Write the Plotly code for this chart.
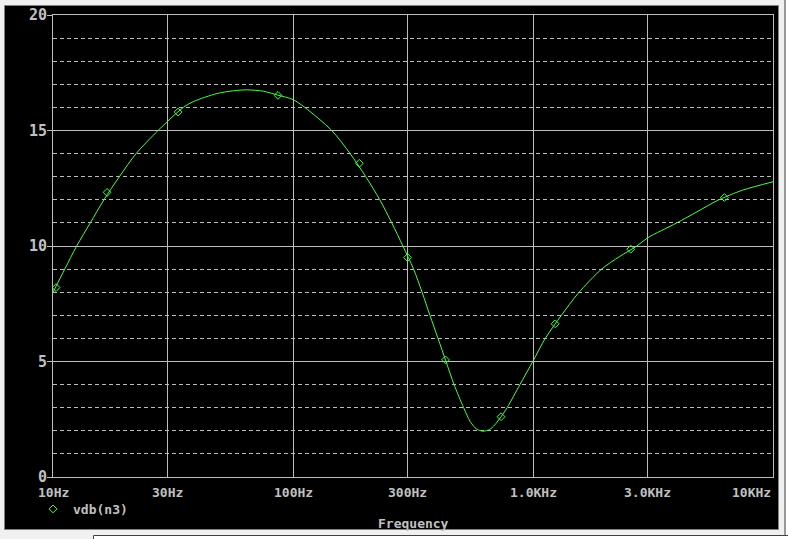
import math
import plotly.graph_objects as go

# ---- data ----
FREQ_HZ = [10, 11.2, 12.55, 14.3, 16.3, 18.9, 22.2, 27.4, 34.9, 38.4, 48.2, 56.5, 64.4,
           75.3, 86.6, 100, 112, 145, 173, 201, 230, 258, 287, 318, 345,
           372, 402, 434, 469, 514, 546, 566, 581, 621, 660, 692, 736, 780, 882, 998, 1125,
           1313, 1542, 1932, 2300, 2709, 3000, 3972, 4824, 5896, 7486, 10000]
VDB = [8.0, 9.0, 10.0, 11.0, 12.0, 13.0, 14.0, 15.0, 16.0, 16.25, 16.6, 16.72, 16.76,
       16.7, 16.53, 16.34, 16.0, 15.0, 14.0, 13.0, 12.0, 11.0, 10.0, 9.0, 8.0,
       7.0, 6.0, 5.0, 4.0, 3.0, 2.42, 2.2, 2.08, 1.98, 2.06, 2.25, 2.61, 3.0, 4.0, 5.0, 6.0,
       7.0, 7.95, 9.0, 9.55, 10.0, 10.35, 11.0, 11.48, 11.98, 12.42, 12.78]

MARK_FREQ = [10.3, 16.8, 33.2, 86.6, 189, 300, 432, 736, 1237, 2554, 6272]
MARK_VDB = [8.2, 12.32, 15.8, 16.52, 13.58, 9.5, 5.07, 2.61, 6.63, 9.86, 12.1]

X_TICKS = [10, 30, 100, 300, 1000, 3000, 10000]
X_TICK_TEXT = ["10Hz", "30Hz", "100Hz", "300Hz", "1.0KHz", "3.0KHz", "10KHz"]
Y_TICKS = [0, 5, 10, 15, 20]
Y_TICK_TEXT = ["0", "5", "10", "15", "20"]

SERIES_NAME = "vdb(n3)"
X_TITLE = "Frequency"

# ---- style ----
W, H = 788, 539
ML, MR, MT, MB = 53, 15, 15, 62
PW, PH = W - ML - MR, H - MT - MB
GREEN = "#44ff44"
GRID = "#bdbdbd"
TXT = "#c0c0c0"
FONT = "DejaVu Sans Mono"


def px_x(px):
    return (px - ML) / PW


def px_y(py):
    return (H - MB - py) / PH


fig = go.Figure()
fig.add_trace(go.Scatter(x=FREQ_HZ, y=VDB, mode="lines",
                         line=dict(color=GREEN, width=1, shape="spline", smoothing=0.8),
                         showlegend=False, hoverinfo="skip"))
fig.add_trace(go.Scatter(x=MARK_FREQ, y=MARK_VDB, mode="markers", name=SERIES_NAME,
                         marker=dict(symbol="diamond-open", size=6, color=GREEN, line=dict(width=1, color=GREEN)),
                         showlegend=True))

shapes = [
    dict(type="rect", xref="paper", yref="paper", x0=px_x(4.5), x1=px_x(778.5), y0=px_y(529.5), y1=px_y(5.5),
         fillcolor="black", line=dict(color="#808080", width=1), layer="below"),
    dict(type="line", xref="paper", yref="paper", x0=px_x(785), x1=px_x(785), y0=px_y(0), y1=px_y(539),
         line=dict(color="#404040", width=1), layer="below"),
    dict(type="rect", xref="paper", yref="paper", x0=px_x(786), x1=px_x(789), y0=px_y(539), y1=px_y(0),
         fillcolor="white", line=dict(width=0), layer="below"),
    dict(type="rect", xref="paper", yref="paper", x0=px_x(93.5), x1=px_x(789), y0=px_y(540), y1=px_y(535.5),
         fillcolor="white", line=dict(color="#404040", width=1), layer="below"),
]

annotations = []
for i, (v, t) in enumerate(zip(X_TICKS, X_TICK_TEXT)):
    anchor = "right" if i == len(X_TICKS) - 1 else "center"
    annotations.append(dict(x=math.log10(v), y=px_y(493), xref="x", yref="paper", text=t, showarrow=False,
                            xanchor=anchor, yanchor="middle",
                            font=dict(family=FONT, size=13, color=TXT, weight="bold")))
annotations.append(dict(x=0.5, y=px_y(523), xref="paper", yref="paper", text=X_TITLE, showarrow=False,
                        xanchor="center", yanchor="middle",
                        font=dict(family=FONT, size=13, color=TXT, weight="bold")))

fig.update_layout(
    width=W, height=H,
    margin=dict(l=ML, r=MR, t=MT, b=MB, autoexpand=False),
    paper_bgcolor="#f0f0f0", plot_bgcolor="black",
    shapes=shapes, annotations=annotations,
    showlegend=True,
    legend=dict(x=px_x(33), y=px_y(494), xanchor="left", yanchor="top", bgcolor="rgba(0,0,0,0)",
                font=dict(family=FONT, size=13, color=TXT, weight="bold"), itemwidth=30),
    xaxis=dict(type="log", range=[1, 4], tickvals=X_TICKS, showticklabels=False, ticks="",
               showgrid=True, gridcolor=GRID, gridwidth=1, zeroline=False,
               showline=True, linecolor=GRID, linewidth=1, mirror=True, fixedrange=True),
    yaxis=dict(range=[0, 20], tickvals=Y_TICKS, ticktext=Y_TICK_TEXT, ticks="outside", ticklen=5,
               tickcolor=GRID, tickfont=dict(family=FONT, size=15, color=TXT, weight="bold"),
               ticklabelstandoff=-3,
               showgrid=True, gridcolor=GRID, gridwidth=1, zeroline=False,
               showline=True, linecolor=GRID, linewidth=1, mirror=True,
               minor=dict(dtick=1, showgrid=True, gridcolor=GRID, gridwidth=1, griddash="4px,3px", ticks=""),
               fixedrange=True),
)

fig.write_html("out.html", config={"displayModeBar": False},
               post_script="document.body.style.margin='0';document.body.style.overflow='hidden';")
